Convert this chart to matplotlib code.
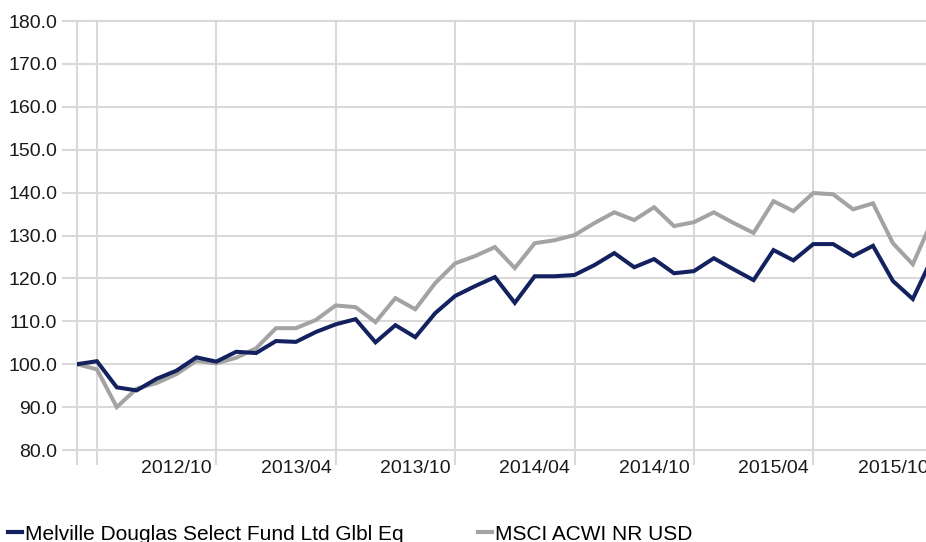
import matplotlib.pyplot as plt
from matplotlib.lines import Line2D
import pandas as pd

plt.rcParams['font.family'] = ['Liberation Sans', 'DejaVu Sans']

# monthly points, 2012/03 .. 2015/10
months = pd.period_range("2012-03", "2015-10", freq="M")
fund = [100.0, 100.7, 94.6, 93.9, 96.6, 98.5, 101.6, 100.6, 102.9, 102.6,
        105.4, 105.2, 107.5, 109.3, 110.5, 105.1, 109.1, 106.3, 111.9, 115.9,
        118.2, 120.3, 114.3, 120.5, 120.5, 120.8, 123.1, 125.9, 122.6, 124.5,
        121.2, 121.7, 124.7, 122.1, 119.6, 126.6, 124.2, 128.0, 128.0, 125.2,
        127.6, 119.4, 115.2, 125.0]
index = [100.0, 98.8, 90.0, 94.3, 95.6, 97.7, 100.8, 100.2, 101.5, 103.7,
         108.4, 108.4, 110.3, 113.7, 113.3, 109.8, 115.4, 112.8, 118.9, 123.5,
         125.2, 127.3, 122.4, 128.2, 128.9, 130.1, 132.9, 135.4, 133.6, 136.6,
         132.2, 133.1, 135.4, 132.9, 130.6, 138.0, 135.7, 139.9, 139.6, 136.1,
         137.5, 128.2, 123.3, 133.8]
series_names = ["Melville Douglas Select Fund Ltd Glbl Eq", "MSCI ACWI NR USD"]
tick_months = ["2012-03", "2012-04", "2012-10", "2013-04", "2013-10",
               "2014-04", "2014-10", "2015-04", "2015-10"]
labelled = ["2012-10", "2013-04", "2013-10", "2014-04", "2014-10",
            "2015-04", "2015-10"]

navy = "#13215f"
grey = "#a3a3a3"
grid_c = "#d9d9d9"

W, H = 926, 542
fig = plt.figure(figsize=(W / 100, H / 100), dpi=100)
ax = fig.add_axes([77 / W, 92 / H, (W - 77) / W, (450 - 21) / H])

x = list(range(len(months)))
month_str = [str(m) for m in months]

ax.plot(x, index, color=grey, lw=2.9, zorder=3, solid_joinstyle='miter')
ax.plot(x, fund, color=navy, lw=2.9, zorder=4, solid_joinstyle='miter')

tick_pos = [month_str.index(m) for m in tick_months]
ax.set_xticks(tick_pos)
ax.set_xticklabels([])
ax.set_yticks(range(80, 181, 10))
ax.yaxis.set_major_formatter(lambda v, p: f"{v:.1f}")
# limits after the ticks, set_xticks would widen them
ax.set_ylim(80, 180)
ax.set_xlim(0, (W - 77) / 19.9)

for s in ax.spines.values():
    s.set_visible(False)

ax.grid(True, color=grid_c, lw=1.5)
ax.set_axisbelow(True)
ax.tick_params(axis='both', direction='out', length=10.8, width=1.5, color=grid_c)
ax.tick_params(axis='y', labelsize=14, pad=3.6, labelcolor='#1a1a1a')
for gl in ax.get_xgridlines() + ax.get_ygridlines():
    gl.set_clip_on(False)

for m in labelled:
    ax.annotate(m.replace("-", "/"), xy=(month_str.index(m), 0),
                xycoords=('data', 'axes fraction'), xytext=(-3.2, -7),
                textcoords='offset points', ha='right', va='top',
                fontsize=14, color='#1a1a1a', annotation_clip=False)

handles = [Line2D([], [], color=navy, lw=3), Line2D([], [], color=grey, lw=3)]
fig.legend(handles, series_names, loc='center left',
           bbox_to_anchor=(0.0, (542 - 534) / H), ncol=2, frameon=False,
           fontsize=15, handlelength=0.67, handletextpad=0.15,
           columnspacing=3.55, borderaxespad=0.2, borderpad=0.2)

fig.savefig("out.png", dpi=100)
